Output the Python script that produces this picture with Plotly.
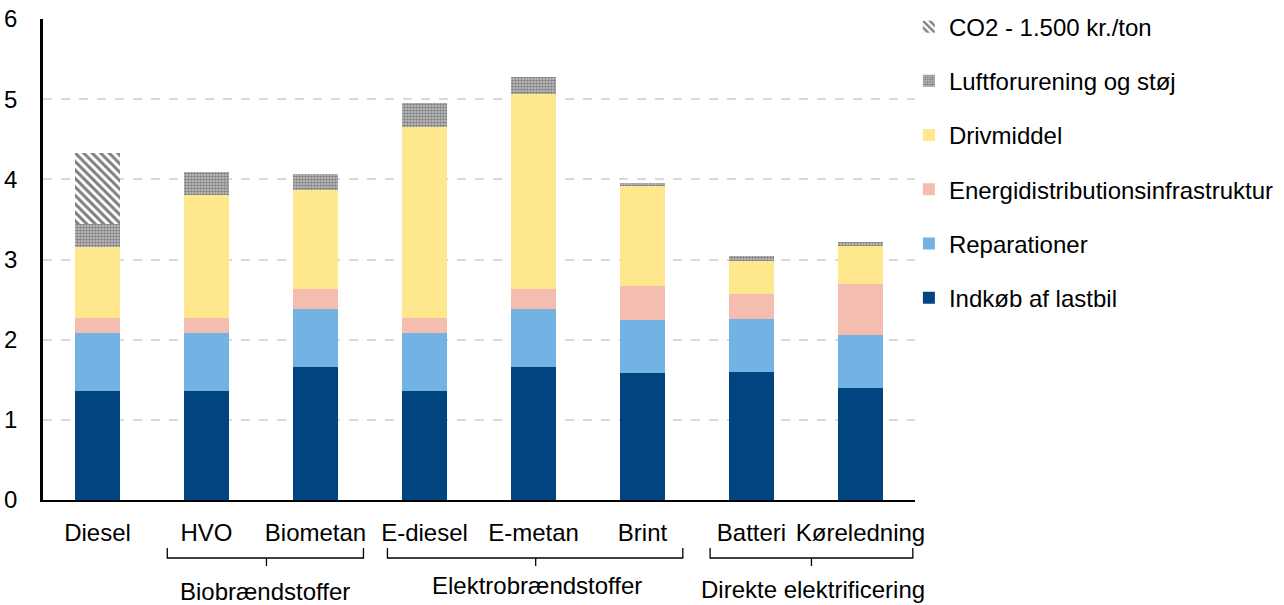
import plotly.graph_objects as go

categories = ["Diesel", "HVO", "Biometan", "E-diesel", "E-metan", "Brint", "Batteri", "Køreledning"]
indkob = [1.36, 1.36, 1.66, 1.36, 1.66, 1.58, 1.60, 1.40]
reparationer = [0.72, 0.72, 0.72, 0.72, 0.72, 0.66, 0.66, 0.66]
energi = [0.19, 0.19, 0.25, 0.19, 0.25, 0.43, 0.31, 0.64]
drivmiddel = [0.89, 1.53, 1.24, 2.38, 2.44, 1.25, 0.41, 0.47]
luft = [0.28, 0.29, 0.20, 0.30, 0.21, 0.04, 0.06, 0.05]
co2 = [0.89, 0, 0, 0, 0, 0, 0, 0]

groups = ["Biobrændstoffer", "Elektrobrændstoffer", "Direkte elektrificering"]
group_spans = [(0.64, 2.44), (2.66, 5.37), (5.62, 7.48)]
group_ticks = [1.55, 4.02, 6.55]
group_label_x = [1.54, 4.03, 6.56]
group_label_y = [591, 585, 589]

FONT = "Liberation Sans, Arial, sans-serif"
FS = 24
xs = list(range(len(categories)))

fig = go.Figure()
series = [
    ("Indkøb af lastbil", indkob, "#004580", None),
    ("Reparationer", reparationer, "#73B3E4", None),
    ("Energidistributionsinfrastruktur", energi, "#F5BDB0", None),
    ("Drivmiddel", drivmiddel, "#FFE78E", None),
    ("Luftforurening og støj", luft, "white", dict(shape=".", fgcolor="#3a3a3a", bgcolor="#c8c8c8", size=3, solidity=0.6)),
    ("CO2 - 1.500 kr./ton", co2, "white", dict(shape="\\", fgcolor="#000000", bgcolor="#ffffff", size=6, solidity=0.5)),
]
n = len(series)
for i, (name, vals, color, pat) in enumerate(series):
    marker = dict(color=color, line=dict(width=0))
    if pat:
        marker["pattern"] = pat
    fig.add_trace(go.Bar(x=xs, y=vals, name=name, marker=marker, width=0.405,
                         legendgroup=f"g{i}", legendrank=(n - i) * 10))

def py(p):
    return 1 - (p - 19) / (500 - 19)

shapes = []
for (a, b), t in zip(group_spans, group_ticks):
    y_top = py(548)
    y_h = py(558)
    y_t = py(566)
    shapes.append(dict(type="path", xref="x", yref="paper",
                       path=f"M {a},{y_top} L {a},{y_h} L {b},{y_h} L {b},{y_top}",
                       line=dict(color="black", width=1.3)))
    shapes.append(dict(type="line", xref="x", yref="paper", x0=t, x1=t, y0=y_h, y1=y_t,
                       line=dict(color="black", width=1.3)))

annotations = []
for g, gx, gy in zip(groups, group_label_x, group_label_y):
    annotations.append(dict(x=gx, y=py(gy), xref="x", yref="paper", text=g, showarrow=False,
                            xanchor="center", yanchor="middle", font=dict(size=FS, color="black", family=FONT)))

fig.update_layout(
    barmode="stack",
    width=1284, height=605,
    autosize=False,
    margin=dict(l=43, r=369, t=19, b=105, autoexpand=False),
    paper_bgcolor="white", plot_bgcolor="white",
    font=dict(family=FONT, size=FS, color="black"),
    shapes=shapes,
    annotations=annotations,
    legend=dict(x=0.993, y=1.03, xanchor="left", yanchor="top", traceorder="grouped",
                tracegroupgap=20, font=dict(size=FS, family=FONT, color="black"),
                itemwidth=30, bgcolor="rgba(0,0,0,0)", maxheight=1),
    xaxis=dict(tickmode="array", tickvals=xs, ticktext=categories, range=[-0.5, 7.5],
               showline=True, linecolor="black", linewidth=2, ticks="", showgrid=False,
               ticklabelstandoff=10, automargin=False,
               tickfont=dict(size=FS, family=FONT), fixedrange=True),
    yaxis=dict(range=[0, 6], dtick=1, showline=True, linecolor="black", linewidth=2.5,
               showgrid=True, gridcolor="#d9d9d9", griddash="dash", gridwidth=1.5,
               ticks="", ticklabelstandoff=18, zeroline=False, automargin=False,
               tickfont=dict(size=FS, family=FONT)),
)
fig.write_html("out.html", config={"displayModeBar": False},
               post_script="document.body.style.margin='0';document.body.style.overflow='hidden';")
